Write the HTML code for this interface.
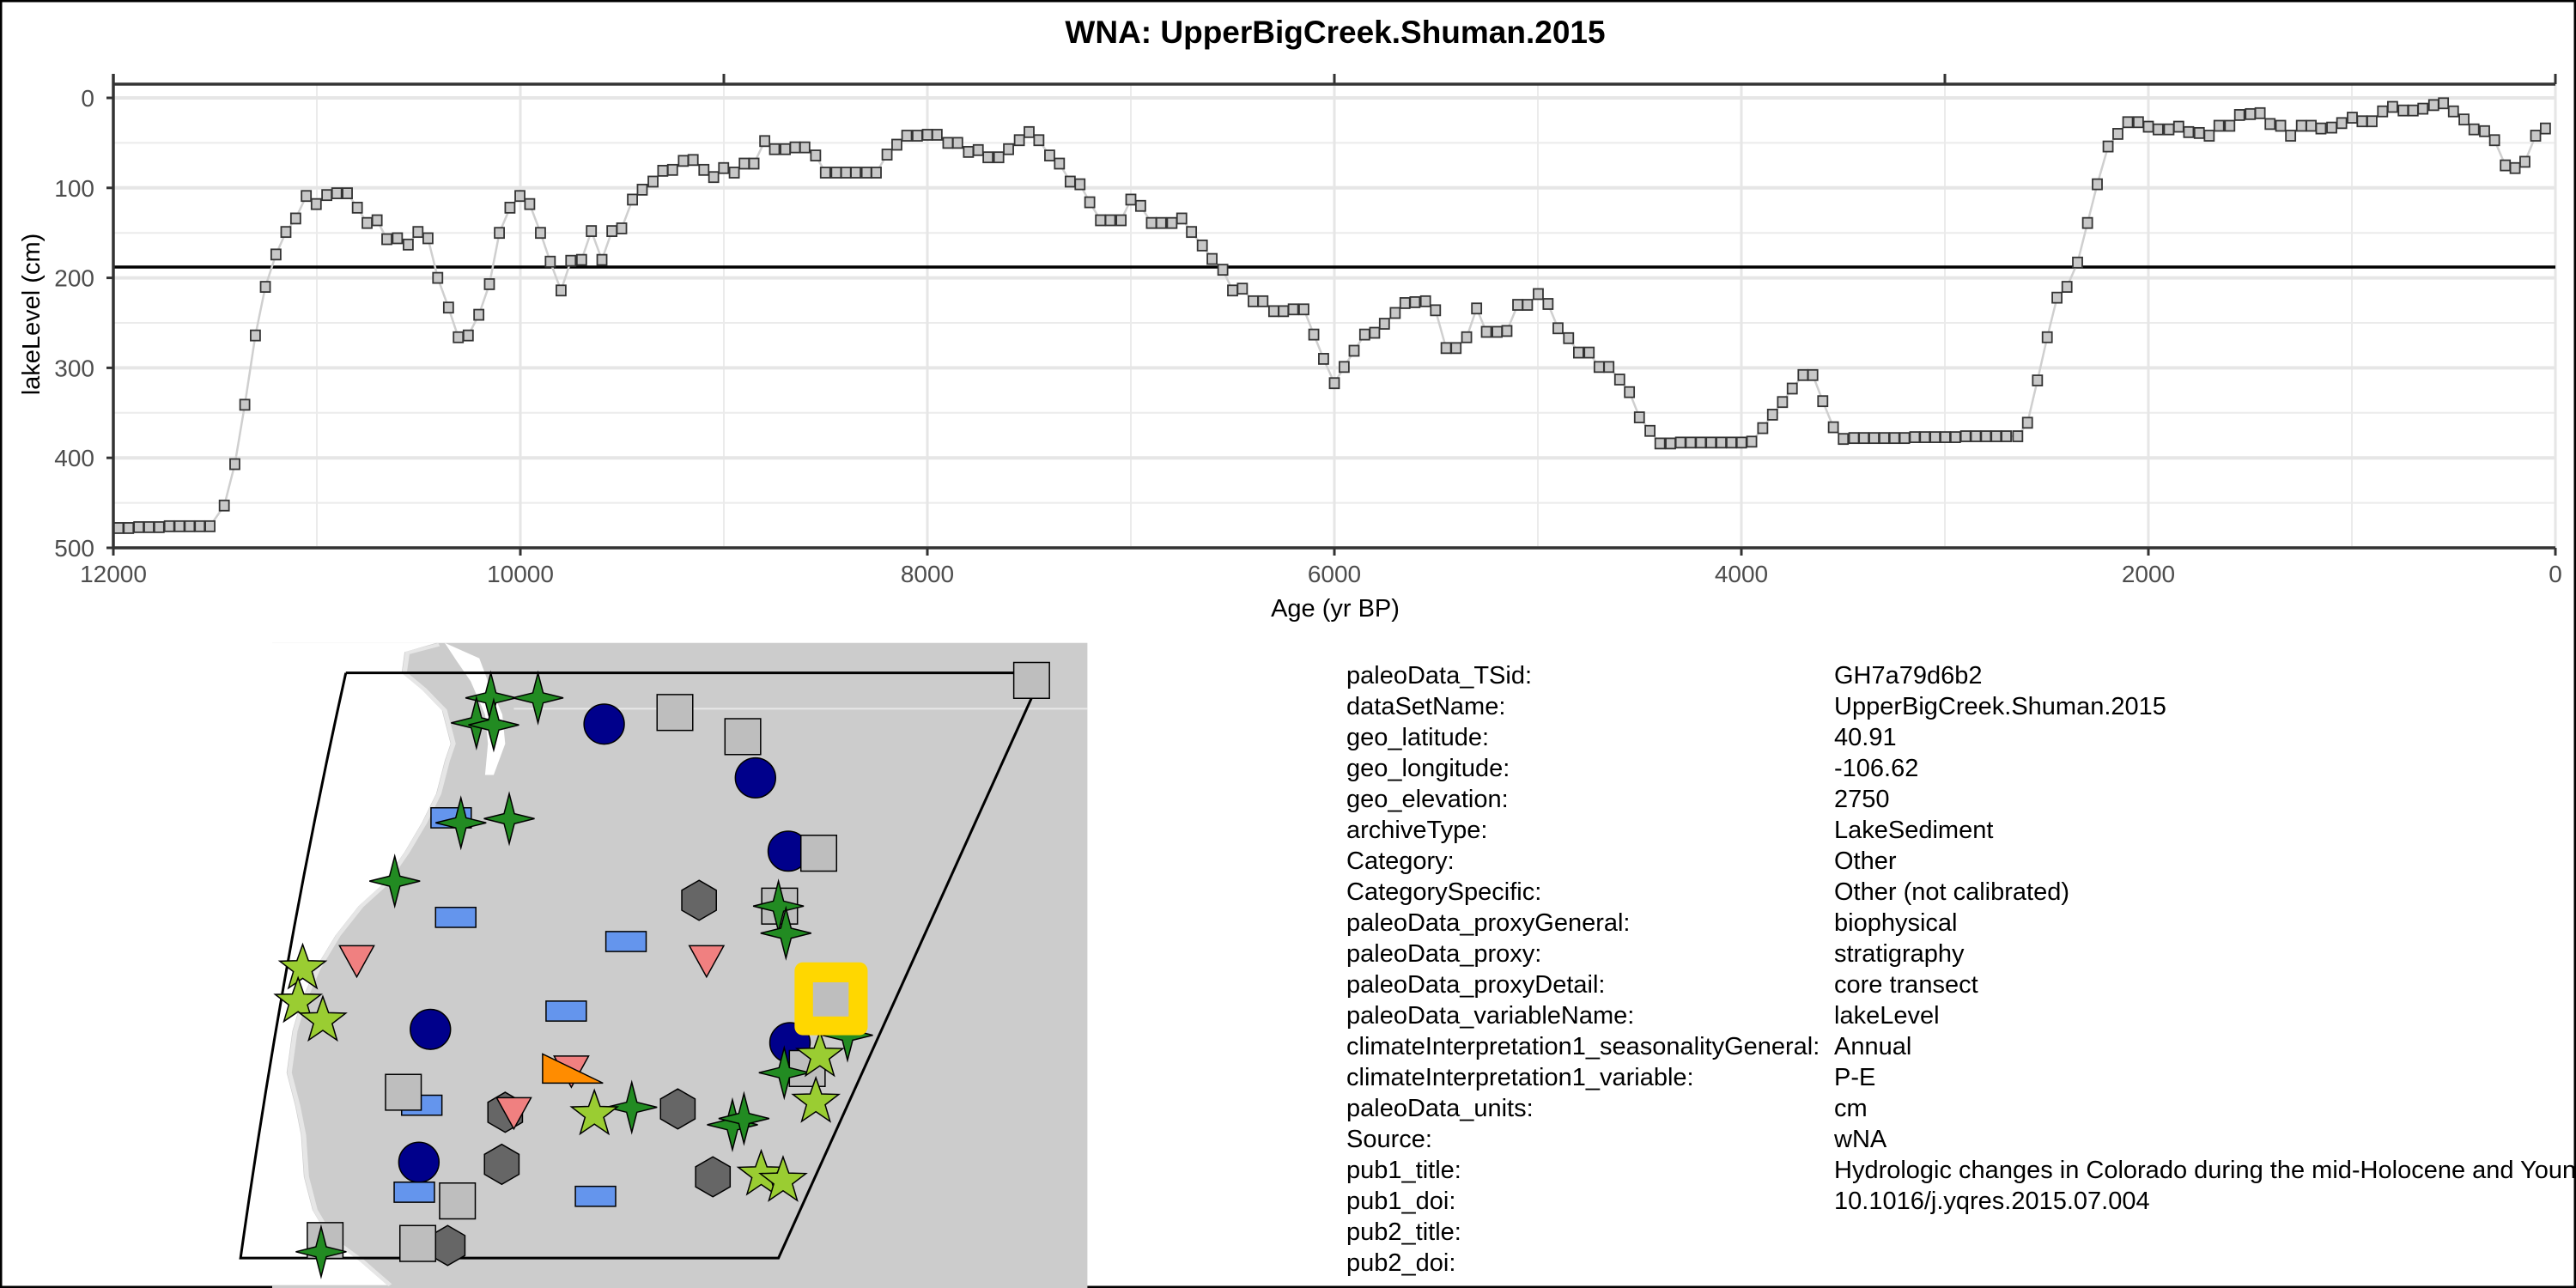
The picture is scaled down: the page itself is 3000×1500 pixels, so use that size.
<!DOCTYPE html>
<html><head><meta charset="utf-8"><style>
html,body{margin:0;padding:0;background:#fff}
svg{display:block;font-family:"Liberation Sans",Arial,sans-serif}
</style></head><body>
<svg id="root" width="3000" height="1500" viewBox="0 0 3000 1500">
<rect x="1" y="1" width="2998" height="1498" fill="#fff" stroke="#000" stroke-width="3"/>
<text x="1555" y="50" text-anchor="middle" font-size="37" font-weight="bold">WNA: UpperBigCreek.Shuman.2015</text>
<g id="chart"></g>
<g id="map" transform="translate(250,740) scale(0.670,0.485)">
  <rect x="100" y="18" width="1417" height="1550" fill="#cccccc"/>
  <polygon points="385,18 330,40 325,90 360,130 395,180 410,260 400,300 385,380 360,450 330,520 290,600 250,650 210,720 175,800 150,880 135,950 125,1050 140,1130 150,1200 155,1300 170,1380 200,1450 250,1500 300,1560 -10,1560 -10,18" fill="#fff"/>
  <path d="M390,22 L335,42 L330,90 L365,130 L400,180 L415,260 L405,300 L390,380 L365,450 L335,520 L295,600 L255,650 L215,720 L180,800 L155,880 L140,950 L130,1050 L145,1130 L155,1200 L160,1300 L175,1380 L205,1450 L255,1500 L305,1560" fill="none" stroke="#e6e6e6" stroke-width="8"/>
  <polygon points="400,18 460,55 475,110 500,190 505,260 485,335 470,335 475,260 470,190 445,110 420,60" fill="#fff"/>
  <line x1="520" y1="176" x2="1517" y2="176" stroke="#e8e8e8" stroke-width="4"/>
  <path d="M228,90 L1420,90 M1420,150 L980,1495 L45,1495 Q120,760 228,90" fill="none" stroke="#000" stroke-width="3" vector-effect="non-scaling-stroke"/>
  <g id="marks"></g>
</g>
<g id="info" font-size="29"></g>
</svg>
<script>
// ---------- chart data ----------
const ages = [11975,11925,11875,11825,11775,11725,11675,11625,11575,11525,
11455,11403,11354,11302,11253,11201,11152,11104,11052,11003,10951,10902,10850,10801,10753,10704,10656,10604,10551,10503,10454,10406,10353,10305,10256,10204,10152,10103,10051,10002,9954,9901,9853,9800,9752,9699,9651,9599,9550,9502,9449,9401,9348,9300,9252,9199,9151,9098,9050,9001,8949,8900,8852,8799,8751,8698,8650,8602,8549,8501,8448,8400,8352,8299,8251,8198,8150,8101,8049,8000,7952,7899,7851,7798,7750,7702,7649,7601,7548,7500,7452,7399,7351,7298,7250,7202,7149,7101,7048,7000,6952,6899,6851,6798,6750,6702,6649,6601,6548,6500,6452,6399,6351,6298,6250,6202,6150,6101,6053,6000,5952,5903,5851,5802,5754,5701,5653,5604,5552,5503,5451,5402,5350,5301,5253,5200,5152,5099,5051,4998,4950,4901,4849,4800,4748,4699,4651,4598,4550,4501,4449,4400,4348,4299,4249,4199,4149,4099,4049,3999,3949,3895,3847,3798,3750,3697,3649,3600,3548,3499,3447,3398,3348,3298,3248,3198,3148,3098,3048,2998,2948,2898,2848,2798,2748,2698,2642,2594,2545,2497,2449,2400,2348,2299,2251,2198,2150,2101,2049,2000,1952,1899,1851,1802,1750,1701,1653,1600,1552,1499,1451,1402,1350,1301,1248,1200,1152,1099,1050,998,950,901,849,800,748,699,651,598,550,501,449,400,348,299,246,198,150,97,49];
const levels = [478,478,477,477,477,476,476,476,476,476,
453,407,341,264,210,174,149,134,109,118,108,106,106,122,139,136,157,156,163,149,156,200,233,266,264,241,207,150,122,109,118,150,182,214,181,180,148,180,148,145,113,102,93,81,80,70,69,80,88,78,83,73,73,48,57,57,55,55,64,83,83,83,83,83,83,63,52,42,42,41,41,50,50,60,58,66,66,57,47,38,47,64,73,93,96,116,136,136,136,113,120,139,139,139,134,149,164,179,191,214,212,226,226,237,237,235,235,263,290,317,299,281,263,261,251,239,228,227,226,236,278,278,266,234,260,260,259,230,230,218,229,256,267,283,283,299,299,313,327,355,370,384,384,383,383,383,383,383,383,383,382,367,352,338,323,308,308,337,366,379,378,378,378,378,378,378,377,377,377,377,377,376,376,376,376,376,376,361,314,266,222,210,183,139,96,54,40,27,27,32,35,35,32,38,39,42,31,31,19,18,17,29,31,42,31,31,34,33,28,22,26,26,15,10,14,14,12,8,6,15,24,35,37,47,75,78,71,42,34];
const yTickLabels = ["0","100","200","300","400","500"];
const yTickValues = [0,100,200,300,400,500];
const xTickValues = [12000,10000,8000,6000,4000,2000,0];
const xTickLabels = ["12000","10000","8000","6000","4000","2000","0"];
const topTickValues = [12000,9000,6000,3000,0];
const refLevel = [188];

const NS="http://www.w3.org/2000/svg";
const X0=132,X1=2976,Y0=114,Y1=638;
function xs(a){return X0+(12000-a)/12000*(X1-X0);}
function ys(v){return Y0+v/500*(Y1-Y0);}
function mk(tag,attrs,parent){const e=document.createElementNS(NS,tag);for(const k in attrs)e.setAttribute(k,attrs[k]);parent.appendChild(e);return e;}
const chart=document.getElementById('chart');

for(let a=11000;a>0;a-=2000){const l=mk('line',{x1:xs(a),x2:xs(a),y1:98,y2:Y1,stroke:'#ebebeb','stroke-width':2},chart);

}
for(let v=50;v<500;v+=100){const l=mk('line',{x1:X0,x2:X1,y1:ys(v),y2:ys(v),stroke:'#ebebeb','stroke-width':2},chart);

}
xTickValues.forEach(a=>{const l=mk('line',{x1:xs(a),x2:xs(a),y1:98,y2:Y1,stroke:'#e6e6e6','stroke-width':3},chart);

});
yTickValues.forEach(v=>{const l=mk('line',{x1:X0,x2:X1,y1:ys(v),y2:ys(v),stroke:'#e6e6e6','stroke-width':4},chart);

});

refLevel.forEach(v=>{const l=mk('line',{x1:X0,x2:X1,y1:ys(v),y2:ys(v),stroke:'#000','stroke-width':3.5},chart);

});

const pts=ages.map((a,i)=>xs(a).toFixed(1)+','+ys(levels[i]).toFixed(1)).join(' ');
const pl=mk('polyline',{points:pts,fill:'none',stroke:'#cfcfcf','stroke-width':2.5},chart);


ages.forEach((a,i)=>{const r=mk('rect',{x:xs(a)-5.5,y:ys(levels[i])-6,width:11,height:12,fill:'#c8c8c8',stroke:'#333','stroke-width':1.8},chart);

});

const ax=mk('path',{d:`M${X0},98 L${X1},98 M${X0},86 L${X0},${Y1} M${X0},${Y1} L${X1},${Y1}`,stroke:'#333','stroke-width':3.5,fill:'none'},chart);


topTickValues.forEach(a=>{const t=mk('line',{x1:xs(a),x2:xs(a),y1:86,y2:98,stroke:'#333','stroke-width':3},chart);

});
yTickValues.forEach((v,i)=>{const t=mk('line',{x1:X0-8,x2:X0,y1:ys(v),y2:ys(v),stroke:'#333','stroke-width':3},chart);


const tx=mk('text',{x:110,y:ys(v)+10,'text-anchor':'end','font-size':28,fill:'#4d4d4d'},chart);tx.textContent=yTickLabels[i];

});
xTickValues.forEach((a,i)=>{const t=mk('line',{x1:xs(a),x2:xs(a),y1:Y1,y2:Y1+9,stroke:'#333','stroke-width':3},chart);


const tx=mk('text',{x:xs(a),y:678,'text-anchor':'middle','font-size':28,fill:'#4d4d4d'},chart);tx.textContent=xTickLabels[i];

});
const xt=mk('text',{x:1555,y:718,'text-anchor':'middle','font-size':29},chart);xt.textContent='Age (yr BP)';


const yt=mk('text',{x:0,y:0,'text-anchor':'middle','font-size':29,transform:'translate(46,366) rotate(-90)'},chart);yt.textContent='lakeLevel (cm)';



// ---------- map markers ----------
const marks=document.getElementById('marks');
const squares=[[800,185],[918,243],[1050,523],[982,650],[328,1097],[422,1358],[192,1453],[353,1460],[1030,1040],[1420,108]];
const circles=[[677,213],[940,342],[997,518],[375,946],[1000,978],[355,1265]];
const stars4=[[480,150],[562,150],[455,210],[485,215],[428,450],[512,440],[313,590],[980,650],[993,715],[725,1133],[900,1175],[920,1160],[990,1050],[1100,960],[185,1480]];
const stars5=[[153,800],[145,880],[188,925],[660,1150],[1052,1010],[1045,1120],[950,1295],[988,1310]];
const bluerects=[[411,438],[419,677],[715,735],[611,902],[360,1128],[347,1337],[662,1347]];
const tris=[[247,775],[855,775],[520,1140],[620,1040]];
const hexes=[[842,636],[505,1145],[805,1137],[499,1270],[866,1300],[405,1465]];
const SW={'stroke-width':1.5,'vector-effect':'non-scaling-stroke'};
function A(o){return Object.assign({},SW,o);}
circles.forEach(([x,y])=>{const e=mk('ellipse',A({cx:x,cy:y,rx:35,ry:48,fill:'#00008b',stroke:'#000'}),marks);

});
bluerects.forEach(([x,y])=>{const e=mk('rect',A({x:x-35,y:y-24,width:70,height:48,fill:'#6495ed',stroke:'#000'}),marks);

});
hexes.forEach(([x,y])=>{const p=[[0,-48],[30,-24],[30,24],[0,48],[-30,24],[-30,-24]].map(q=>(x+q[0])+','+(y+q[1])).join(' ');
const e=mk('polygon',A({points:p,fill:'#666',stroke:'#000'}),marks);

});
tris.forEach(([x,y])=>{const e=mk('polygon',A({points:`${x-30},${y-30} ${x+30},${y-30} ${x},${y+45}`,fill:'#f08080',stroke:'#000'}),marks);

});
squares.forEach(([x,y])=>{const e=mk('rect',A({x:x-31,y:y-43,width:62,height:86,fill:'#bebebe',stroke:'#000'}),marks);

});
stars4.forEach(([x,y])=>{const p=`${x},${y-60} ${x+9},${y-12} ${x+44},${y} ${x+9},${y+12} ${x},${y+60} ${x-9},${y+12} ${x-44},${y} ${x-9},${y-12}`;
const e=mk('polygon',A({points:p,fill:'#228b22',stroke:'#000'}),marks);

});
stars5.forEach(([x,y])=>{let p=[];for(let k=0;k<10;k++){const r=k%2?17:42;const an=-Math.PI/2+k*Math.PI/5;p.push((x+r*Math.cos(an)).toFixed(1)+','+(y+r*1.38*Math.sin(an)).toFixed(1));}
const e=mk('polygon',A({points:p.join(' '),fill:'#9acd32',stroke:'#000'}),marks);

});
const tri=mk('polygon',A({points:'570,1005 570,1075 675,1075',fill:'#ff8c00',stroke:'#000'}),marks);


const hl=mk('rect',{x:1008,y:785,width:127,height:175,rx:14,ry:20,fill:'#ffd700'},marks);


const hs=mk('rect',{x:1040,y:833,width:62,height:82,fill:'#bebebe'},marks);



// ---------- metadata ----------
const keys=["paleoData_TSid:","dataSetName:","geo_latitude:","geo_longitude:","geo_elevation:","archiveType:","Category:","CategorySpecific:","paleoData_proxyGeneral:","paleoData_proxy:","paleoData_proxyDetail:","paleoData_variableName:","climateInterpretation1_seasonalityGeneral:","climateInterpretation1_variable:","paleoData_units:","Source:","pub1_title:","pub1_doi:","pub2_title:","pub2_doi:"];
const vals=["GH7a79d6b2","UpperBigCreek.Shuman.2015","40.91","-106.62","2750","LakeSediment","Other","Other (not calibrated)","biophysical","stratigraphy","core transect","lakeLevel","Annual","P-E","cm","wNA","Hydrologic changes in Colorado during the mid-Holocene and Younger Dryas","10.1016/j.yqres.2015.07.004","",""];
const info=document.getElementById('info');
keys.forEach((k,i)=>{const y=796+i*36;
const t=mk('text',{x:1568,y:y},info);t.textContent=k;


if(vals[i]){const v=mk('text',{x:2136,y:y},info);v.textContent=vals[i];

}});
</script>
</body></html>
